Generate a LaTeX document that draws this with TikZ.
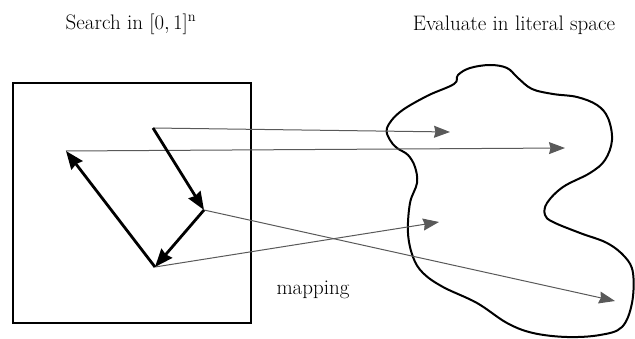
\documentclass[tikz,border=0pt]{standalone}
\usetikzlibrary{arrows.meta}
\begin{document}
\begin{tikzpicture}[x=1pt,y=-1pt,
  thickarrow/.style={line width=2.8pt,-{Stealth[length=18pt,width=14pt,inset=1.5pt]}},
  maparrow/.style={line width=1pt,black!65,-{Stealth[length=16pt,width=12pt,inset=1.5pt]}},
  lbl/.style={font=\fontsize{21}{25}\selectfont,inner sep=0pt}]
\useasboundingbox (0,0) rectangle (635,339);
% search square
\draw[line width=1.9pt] (13,83) rectangle (251,323);
% points in [0,1]^n
\coordinate (a) at (153,128);
\coordinate (b) at (66,151);
\coordinate (c) at (204,210);
\coordinate (d) at (155,267);
% images in literal space
\coordinate (ta) at (450,132);
\coordinate (tb) at (565,148);
\coordinate (tc) at (615,301);
\coordinate (td) at (439,222);
% blob
\draw[line width=2pt] plot[smooth cycle,tension=0.6] coordinates {
 (387,128) (400,112) (427,96) (454,84) (458,75) (470,68) (490,65) (507,68)
 (518,78) (532,89) (553,94) (577,97) (597,105) (608,118) (612,140) (605,160)
 (590,173) (563,187) (547,203) (545,215) (553,222) (580,233) (607,243)
 (625,257) (633,273) (632,303) (622,327) (600,335) (567,337) (533,333)
 (507,323) (477,303) (443,287) (423,273) (413,257) (408,233) (410,203)
 (417,183) (415,167) (408,155) (397,148) (390,140)};
% mapping arrows
\draw[maparrow] (a) -- (ta);
\draw[maparrow] (b) -- (tb);
\draw[maparrow] (c) -- (tc);
\draw[maparrow] (d) -- (td);
% search moves
\draw[thickarrow] (a) -- (c);
\draw[thickarrow] (c) -- (d);
\draw[thickarrow] (d) -- (b);
% labels
\node[lbl] (t1) at (131,24) {Search in $[0,1]^{\mathrm{n}}$};
\node[lbl] (t2) at (514,25) {Evaluate in literal space};
\node[lbl] (t3) at (313,290) {mapping};
\end{tikzpicture}
\end{document}
